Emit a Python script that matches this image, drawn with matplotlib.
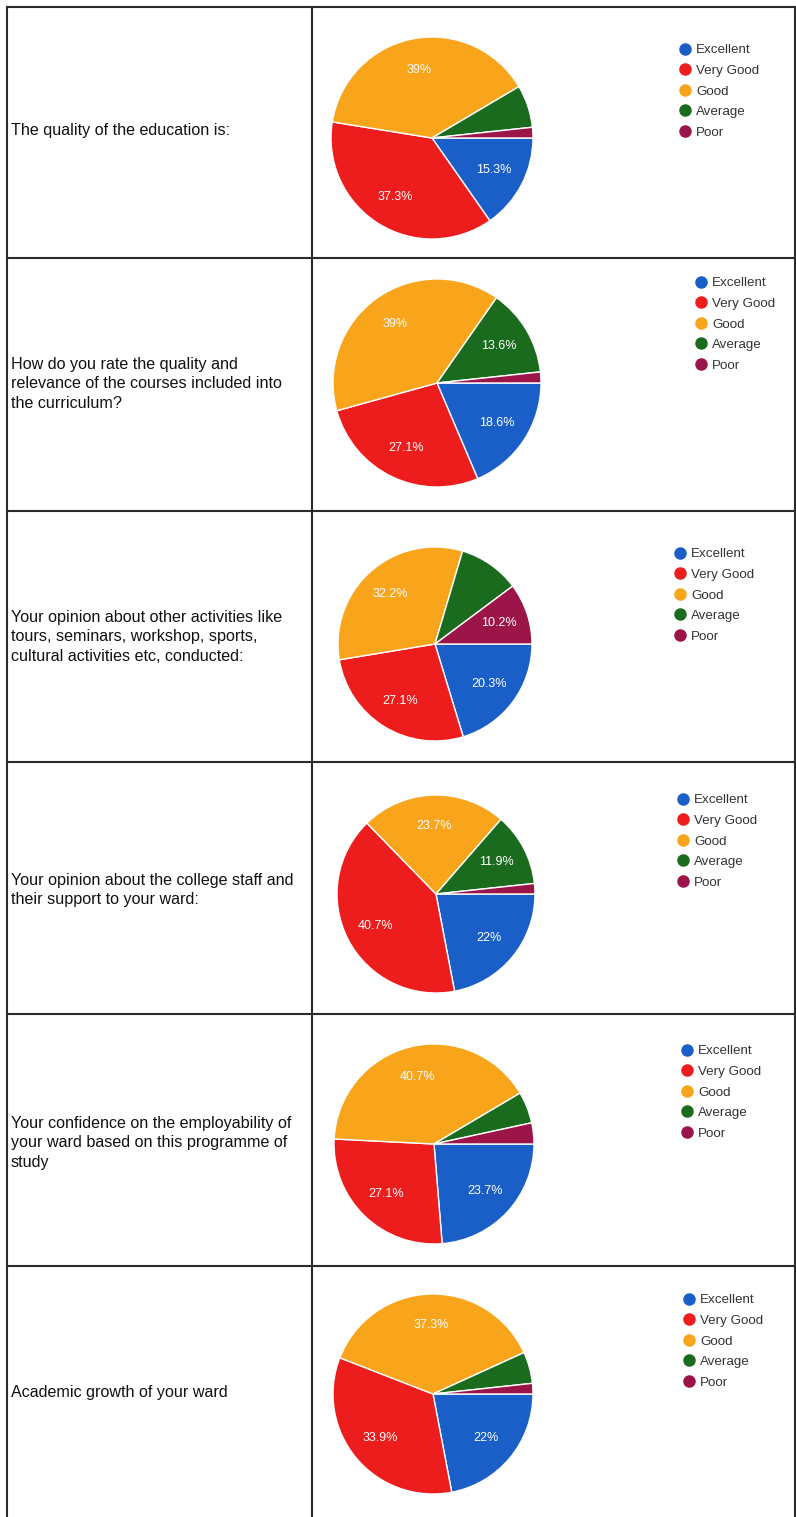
import matplotlib
matplotlib.use("Agg")
from matplotlib import pyplot as plt
from matplotlib.lines import Line2D

W, H = 796, 1517

categories = ["Excellent", "Very Good", "Good", "Average", "Poor"]
colors = ["#1a5fc8", "#ee1d1d", "#f9a51b", "#1b6b1f", "#9c1548"]

questions = [
    "The quality of the education is:",
    "How do you rate the quality and\nrelevance of the courses included into\nthe curriculum?",
    "Your opinion about other activities like\ntours, seminars, workshop, sports,\ncultural activities etc, conducted:",
    "Your opinion about the college staff and\ntheir support to your ward:",
    "Your confidence on the employability of\nyour ward based on this programme of\nstudy",
    "Academic growth of your ward",
]

# percentages per question: Excellent, Very Good, Good, Average, Poor
q1 = [15.3, 37.3, 39.0, 6.8, 1.7]
q2 = [18.6, 27.1, 39.0, 13.6, 1.7]
q3 = [20.3, 27.1, 32.2, 10.2, 10.2]
q4 = [22.0, 40.7, 23.7, 11.9, 1.7]
q5 = [23.7, 27.1, 40.7, 5.1, 3.4]
q6 = [22.0, 33.9, 37.3, 5.1, 1.7]
answers = [q1, q2, q3, q4, q5, q6]

# slice labels that the chart does not show
hidden_labels = {2: [3]}

# layout in pixels (x, y from top)
row_lines = [7, 258, 511, 762, 1014, 1266]
pie_centers = [(432, 138), (437, 383), (435, 644), (436, 894), (434, 1144), (433, 1394)]
pie_radius = [101, 104, 97, 99, 100, 100]
text_y = [131, 384, 637, 890, 1143, 1393]
legend_pos = [(680, 43), (696, 276), (675, 547), (678, 793), (682, 1044), (684, 1293)]


def fx(x):
    return x / W


def fy(y):
    return 1 - y / H


def fmt(v):
    s = "%.1f" % v
    if s.endswith(".0"):
        s = s[:-2]
    return s + "%"


fig = plt.figure(figsize=(W / 100, H / 100), dpi=100)
fig.patch.set_facecolor("white")

# table grid
line_kw = dict(color="#2b2b2b", linewidth=1.5, transform=fig.transFigure)
for y in row_lines:
    fig.add_artist(Line2D([fx(7), fx(795)], [fy(y), fy(y)], **line_kw))
for x in [7, 312, 795]:
    fig.add_artist(Line2D([fx(x), fx(x)], [fy(7), fy(H)], **line_kw))

handles = [Line2D([], [], marker="o", linestyle="none", markersize=8,
                  markerfacecolor=c, markeredgecolor=c) for c in colors]

for i, vals in enumerate(answers):
    cx, cy = pie_centers[i]
    r = pie_radius[i]
    ax = fig.add_axes([fx(cx - r), fy(cy + r), 2 * r / W, 2 * r / H])
    wedges, texts, autotexts = ax.pie(
        vals, colors=colors, startangle=0, counterclock=False,
        autopct="%1.1f%%", pctdistance=0.69,
        wedgeprops=dict(edgecolor="white", linewidth=1),
        textprops=dict(color="white", fontsize=9, family="Liberation Sans"))
    for j, t in enumerate(autotexts):
        t.set_text(fmt(vals[j]))
        if vals[j] < 10 or j in hidden_labels.get(i, []):
            t.set_visible(False)
    ax.set_xlim(-1, 1)
    ax.set_ylim(-1, 1)
    ax.set_aspect("equal")
    ax.axis("off")

    fig.text(fx(11), fy(text_y[i]), questions[i], ha="left", va="center",
             fontsize=11.6, family="Liberation Sans", color="#111111",
             linespacing=1.36)

    lx, ly = legend_pos[i]
    fig.legend(handles, categories, loc="upper left",
               bbox_to_anchor=(fx(lx), fy(ly + 1)), bbox_transform=fig.transFigure,
               frameon=False, borderpad=0, borderaxespad=0, handlelength=0.8,
               handletextpad=0.4, labelspacing=0.62,
               prop=dict(family="Liberation Sans", size=9.6))
    for t in fig.legends[-1].get_texts():
        t.set_color("#333333")

fig.savefig("out.png", dpi=100, facecolor="white")
